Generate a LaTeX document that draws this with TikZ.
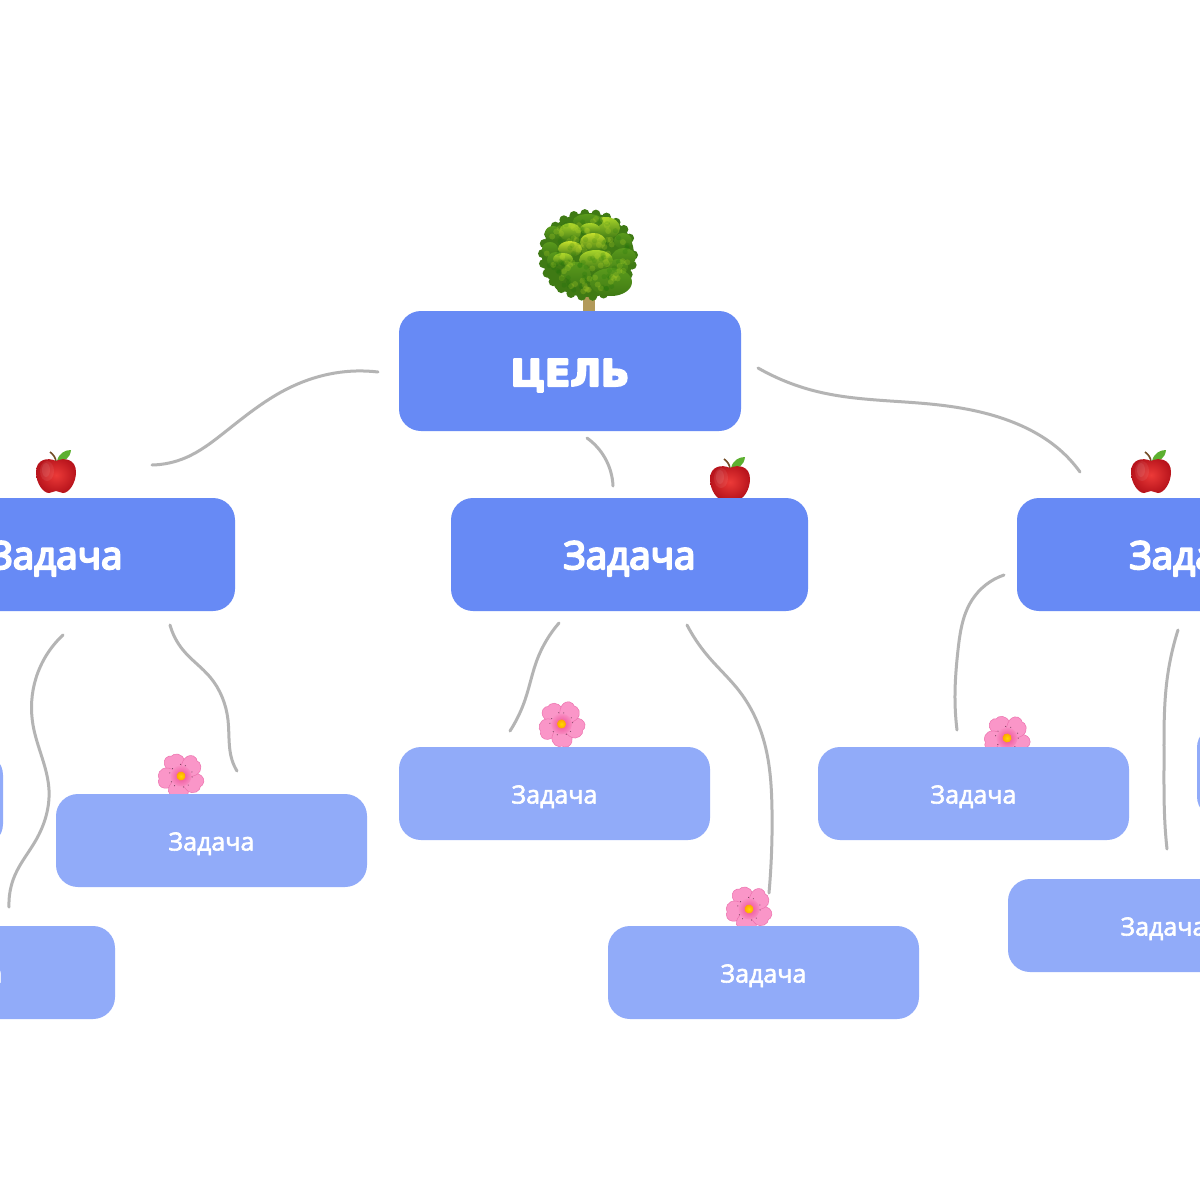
\documentclass[tikz,border=0pt]{standalone}
\usepackage{fontspec}
\usetikzlibrary{hobby}
\setmainfont{Open Sans}
\newfontfamily\heavyfont{DejaVu Sans}[BoldFont={* Bold}]
\newcommand\strokedtext[2]{\special{pdf:code q 1 1 1 RG 1 j 2 Tr #1 w}#2\special{pdf:code Q}}
\newcommand\goaltext[1]{\raisebox{-15pt}[0pt][0pt]{\strokedtext{2.0}{#1}}}
\newcommand\tasktext[1]{\raisebox{-14.5pt}[0pt][0pt]{\strokedtext{2.0}{#1}}}
\newcommand\subtext[1]{\raisebox{-10pt}[0pt][0pt]{\strokedtext{0.6}{#1}}}
\definecolor{mainblue}{HTML}{678AF5}
\definecolor{lightblue}{HTML}{91ABF9}
\definecolor{linegrey}{HTML}{B4B4B4}
\definecolor{appleA}{HTML}{EC3A38}
\definecolor{appleB}{HTML}{B8141C}
\definecolor{leafgreen}{HTML}{5CB030}
\definecolor{petalA}{HTML}{EE4C96}
\definecolor{petalB}{HTML}{FA96C8}
\definecolor{petalE}{HTML}{EC72AE}
\definecolor{treeD}{HTML}{3F7A14}
\definecolor{treeM}{HTML}{5A9A1C}
\definecolor{treeL}{HTML}{A8D42A}
\definecolor{treeB}{HTML}{C4E02C}
\definecolor{trunk}{HTML}{B29A5A}
\tikzset{
  x=1pt,y=-1pt,
  conn/.style={draw=linegrey,line width=3pt,line cap=round,line join=round,use Hobby shortcut},
  goalbox/.style={fill=mainblue,rounded corners=22pt,inner sep=0pt,text=white,minimum width=342pt,minimum height=120pt,font=\heavyfont\bfseries\fontsize{37}{37}\selectfont},
  taskbox/.style={fill=mainblue,rounded corners=22pt,inner sep=0pt,text=white,minimum width=357pt,minimum height=113pt,font=\fontsize{38.5}{38.5}\selectfont},
  subbox/.style={fill=lightblue,rounded corners=22pt,inner sep=0pt,text=white,minimum width=311pt,minimum height=93pt,font=\fontsize{25}{25}\selectfont},
  apple/.pic={
    \fill[leafgreen] (1,-12) .. controls (3,-20) and (9,-23) .. (15,-23) .. controls (14,-15) and (9,-11) .. (1,-12) -- cycle;
    \draw[brown!60!black,line width=1.6pt] (0,-11) .. controls (0,-15) and (-3,-19) .. (-6,-21);
    \shade[inner color=appleA,outer color=appleB]
      (0,-12) .. controls (-8,-16) and (-20,-14) .. (-20,-1) .. controls (-20,10) and (-13,20) .. (-7,20)
      .. controls (-4,20) and (-3,18) .. (0,18) .. controls (3,18) and (4,20) .. (7,20)
      .. controls (13,20) and (20,10) .. (20,-1) .. controls (20,-14) and (8,-16) .. (0,-12) -- cycle;
    \fill[white,opacity=.07] (-9,-2) ellipse (7pt and 10pt);
    \fill[white,opacity=.08] (-10,-3) ellipse (4pt and 7pt);
  },
  flower/.pic={
    \foreach \a in {0,72,144,216,288}{
      \begin{scope}[rotate=\a]
        \fill[petalB,draw=petalE,line width=.5pt]
          (0,0) .. controls (-8,-5) and (-14,-19) .. (-5,-23) .. controls (-2,-24) and (0,-23) .. (1,-22)
          .. controls (4,-24) and (13,-20) .. (10,-11) .. controls (8,-5) and (3,-2) .. (0,0) -- cycle;
      \end{scope}
    }
    \shade[inner color=petalA,outer color=petalB] (0,0) circle (10.5pt);
    \foreach \a in {0,72,144,216,288}{
      \begin{scope}[rotate=\a]
        \fill[black!55!magenta] (-4,-10.5) circle (.6pt);
        \fill[black!55!magenta] (5,-10.5) circle (.6pt);
      \end{scope}
    }
    \shade[inner color=yellow!70!orange,outer color=orange!75!yellow] (0,0) circle (4.5pt);
  },
  treepic/.pic={
    \fill[trunk] (-5,38) rectangle (7,56);
    \fill[treeD] (0,0) ellipse (46pt and 42pt);
    \foreach \a in {0,14,...,346}{
      \fill[treeD] ({45.5*cos(\a)},{41.5*sin(\a)}) circle (4.5pt);
    }
    \foreach \px/\py/\rx/\ry/\c in {
      -35/-22/8/7/treeM, -38/-6/8/7/treeM, 18/-27/14/11/treeL, 35/-14/9/8/treeM, 36/2/12/9/treeM,
      -32/5/9/8/treeM, 0/-34/15/7/treeM, -18/-23/11/9/treeL, 2/-26/10/6/treeL,
      -33/18/9/8/treeD, 30/12/10/8/treeM,
      5/-13/13/9/treeB, -18/-6/12/8/treeB, 8/5/17/10/treeL, -25/4/10/6/treeL,
      -12/20/15/13/treeM, 23/27/21/14/treeM, -26/29/8/7/treeD}{
      \shade[top color=\c,bottom color=treeD] (\px,\py) ellipse (\rx pt and \ry pt);
    }
    \pgfmathsetseed{7}
    \foreach \i in {1,...,70}{
      \pgfmathsetmacro\ang{rnd*360}
      \pgfmathsetmacro\rad{sqrt(rnd)}
      \fill[treeB,opacity=.22] ({42*\rad*cos(\ang)},{38*\rad*sin(\ang)}) circle (3pt);
      \pgfmathsetmacro\ang{rnd*360}
      \pgfmathsetmacro\rad{sqrt(rnd)}
      \fill[black!60!green,opacity=.14] ({42*\rad*cos(\ang)},{38*\rad*sin(\ang)}) circle (2.6pt);
    }
  }
}
\begin{document}
\begin{tikzpicture}
\useasboundingbox (0,0) rectangle (1200,1200);
\fill[white] (0,0) rectangle (1200,1200);
\clip (0,0) rectangle (1200,1200);

% decorations sit behind the boxes
\pic at (588,255) {treepic};
\pic at (56,473) {apple};
\pic at (730,480) {apple};
\pic at (1151,473) {apple};
\pic[rotate=40] at (561.5,724) {flower};
\pic[rotate=28] at (181,776) {flower};
\pic[rotate=28] at (749,909) {flower};
\pic[rotate=32] at (1007,738) {flower};

% boxes
\node[goalbox] (goal) at (570,371) {\goaltext{ЦЕЛЬ}};
\node[taskbox] (taskL) at (56.5,554.5) {\tasktext{Задача}};
\node[taskbox] (taskC) at (629.5,554.5) {\tasktext{Задача}};
\node[taskbox] (taskR) at (1195.5,554.5) {\tasktext{Задача}};
\node[subbox] (subA) at (-152.5,799.5) {};
\node[subbox] (subB) at (211.5,840.5) {\subtext{Задача}};
\node[subbox] (subC) at (-40.5,972.5) {\subtext{Задача}};
\node[subbox] (subD) at (554.5,793.5) {\subtext{Задача}};
\node[subbox] (subE) at (763.5,972.5) {\subtext{Задача}};
\node[subbox] (subF) at (973.5,793.5) {\subtext{Задача}};
\node[subbox] (subG) at (1163.5,925.5) {\subtext{Задача}};
\node[subbox] (subH) at (1352.5,772) {};

% connectors (free ends near the boxes)
\coordinate (c1a) at (378,372); \coordinate (c1b) at (152,465);
\coordinate (c2a) at (587,438); \coordinate (c2b) at (613,486);
\coordinate (c3a) at (758,368); \coordinate (c3b) at (1080,472);
\coordinate (c4a) at (559,623); \coordinate (c4b) at (510,731);
\coordinate (c5a) at (687,625); \coordinate (c5b) at (769,893);
\coordinate (c6a) at (1004,575); \coordinate (c6b) at (957,730);
\coordinate (c7a) at (1178,630); \coordinate (c7b) at (1167,849);
\coordinate (c8a) at (63,635); \coordinate (c8b) at (9,907);
\coordinate (c9a) at (170,625); \coordinate (c9b) at (237,771);
\draw[conn] (c1a) .. (335,373) .. (285,390) .. (225,432) .. (185,458) .. (c1b);
\draw[conn] (c2a) .. (605,458) .. (c2b);
\draw[conn] (c3a) .. (815,391) .. (930,404) .. (1015,423) .. (1060,450) .. (c3b);
\draw[conn] (c4a) .. (537,660) .. (525,700) .. (c4b);
\draw[conn] (c5a) .. (707,655) .. (740,692) .. (765,745) .. (772,810) .. (c5b);
\draw[conn] (c6a) .. (972,600) .. (958,650) .. (955,700) .. (c6b);
\draw[conn] (c7a) .. (1167,680) .. (1164,760) .. (1165,825) .. (c7b);
\draw[conn] (c8a) .. (36,678) .. (33,725) .. (49,790) .. (36,840) .. (15,875) .. (c8b);
\draw[conn] (c9a) .. (183,650) .. (210,677) .. (228,720) .. (232,760) .. (c9b);
\end{tikzpicture}
\end{document}
